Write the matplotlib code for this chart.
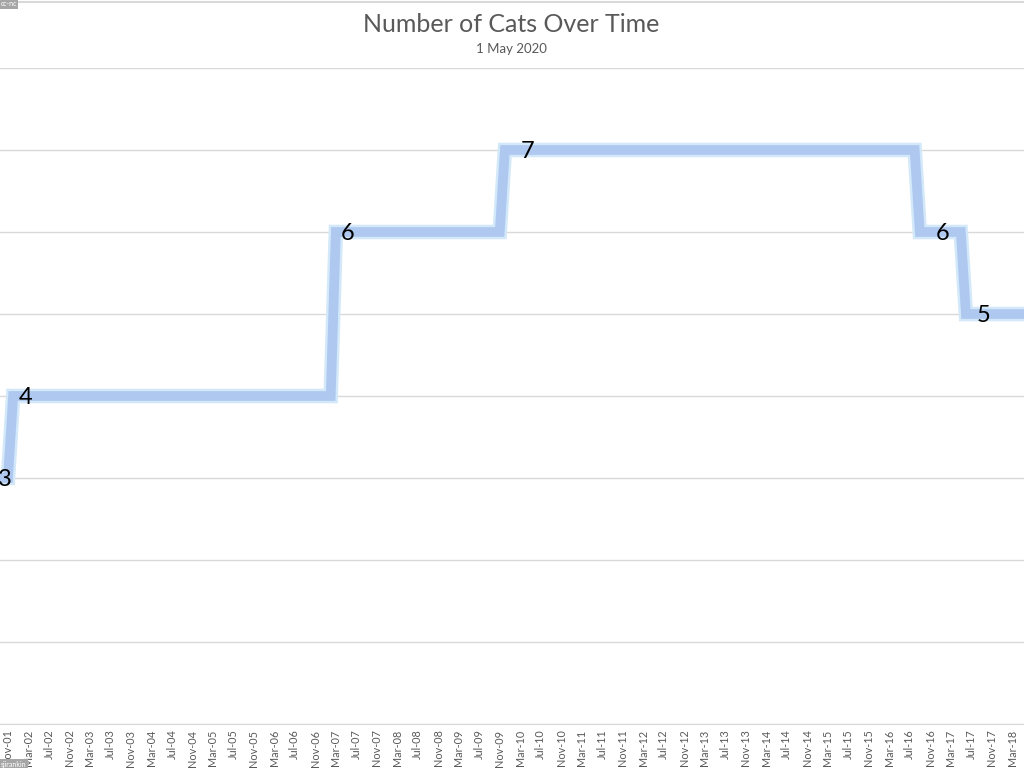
import matplotlib
matplotlib.use("Agg")
import matplotlib.pyplot as plt
import pandas as pd
import numpy as np

# ---- data ----
start_month = "2001-11"          # first labelled category (index 0)
change_months = ["2001-09", "2001-12", "2007-03", "2009-12", "2016-09", "2017-06"]
cat_counts = [3, 4, 6, 7, 6, 5]
end_month = "2018-08"
last_tick_month = "2018-03"
title = "Number of Cats Over Time"
subtitle = "1 May 2020"

plt.rcParams['font.family'] = ['Lato', 'DejaVu Sans']

months = pd.period_range(change_months[0], end_month, freq="M")
origin = pd.Period(start_month, freq="M")
idx = np.array([(m - origin).n for m in months])
change_idx = np.array([(pd.Period(c, freq="M") - origin).n for c in change_months])
vals = np.array(cat_counts)[np.searchsorted(change_idx, idx, side="right") - 1]

last_tick = (pd.Period(last_tick_month, freq="M") - origin).n
tick_idx = np.arange(0, last_tick + 1, 4)
tick_labels = [(origin + int(i)).strftime("%b-%y") for i in tick_idx]

fig = plt.figure(figsize=(10.24, 7.68), dpi=100)
ax = fig.add_axes([0, 44 / 768, 1, 656 / 768])

# glow + core line
ax.plot(idx, vals, color="#d3e9f9", lw=10.5, solid_joinstyle="miter", zorder=3)
ax.plot(idx, vals, color="#aec8ef", lw=7.0, solid_joinstyle="miter", zorder=4)

# data labels at change points
label_offsets = [-3, 12, 12, 23, 23, 18]
for ci, v, off in zip(change_idx, cat_counts, label_offsets):
    x = max(ci, 0)
    ax.annotate(str(v), (x, v), xytext=(off, -1), textcoords="offset pixels",
                ha="center", va="center", fontsize=17, color="black", zorder=5)

px_per_month = 1004 / 196
ax.set_xlim(-8 / px_per_month, (1024 - 8) / px_per_month)
ax.set_ylim(0, 8)
ax.set_yticks(range(0, 9))
ax.yaxis.grid(True, color="#d9d9d9", lw=1)
ax.set_axisbelow(True)
ax.tick_params(axis="y", left=False, labelleft=False)
ax.set_xticks(tick_idx)
ax.set_xticklabels(tick_labels, rotation=90, fontsize=7.8, color="#595959")
ax.tick_params(axis="x", length=0, pad=4)
for s in ["top", "right", "left"]:
    ax.spines[s].set_visible(False)
ax.spines["bottom"].set_color("#d9d9d9")

fig.text(0.499, 1 - 24 / 768, title, ha="center", va="center", fontsize=18, color="#595959")
fig.text(0.499, 1 - 49 / 768, subtitle, ha="center", va="center", fontsize=9.5, color="#595959")

# chart border at top
fig.add_artist(plt.Line2D([0, 1], [1 - 1.5 / 768, 1 - 1.5 / 768], color="#d9d9d9", lw=1.5))

# small watermarks
fig.text(0.001, 1 - 4 / 768, "cc-nc", ha="left", va="center", fontsize=5, color="white",
         bbox=dict(boxstyle="square,pad=0.15", fc="#a6a6a6", ec="none"))
fig.text(0.001, 4 / 768, "sjirankin", ha="left", va="center", fontsize=5, color="white",
         bbox=dict(boxstyle="square,pad=0.15", fc="#a6a6a6", ec="none"))

fig.savefig("out.png", dpi=100)
